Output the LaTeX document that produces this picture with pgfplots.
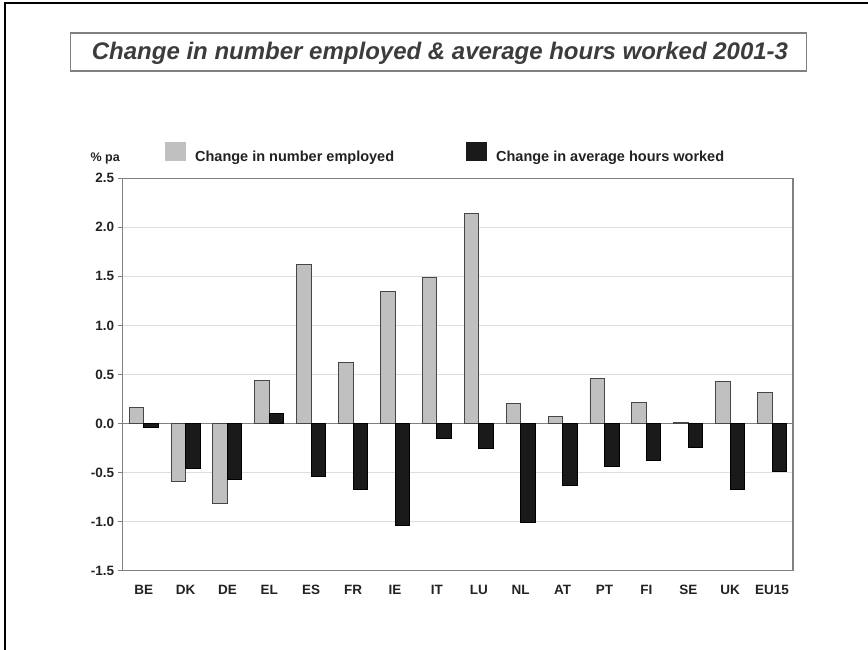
\documentclass[border=0pt]{standalone}
\usepackage{fontspec}
\setmainfont{Liberation Sans}
\usepackage{pgfplots}
\usepackage{pgfplotstable}
\pgfplotsset{compat=1.18}

\definecolor{empgrey}{RGB}{192,192,192}
\definecolor{barline}{RGB}{70,70,70}
\definecolor{hoursblack}{RGB}{26,26,26}
\definecolor{axisgrey}{RGB}{128,128,128}
\definecolor{gridgrey}{RGB}{222,222,222}
\definecolor{titlegrey}{RGB}{60,60,60}
\definecolor{labelgrey}{RGB}{34,34,34}

% Annual % change, 2001-3: number employed and average hours worked
\pgfplotstableread{
idx emp   hours
0   0.16  -0.04
1  -0.59  -0.46
2  -0.82  -0.57
3   0.44   0.10
4   1.62  -0.54
5   0.62  -0.67
6   1.35  -1.04
7   1.49  -0.15
8   2.14  -0.26
9   0.20  -1.01
10  0.07  -0.63
11  0.46  -0.44
12  0.21  -0.38
13  0.01  -0.24
14  0.43  -0.67
15  0.32  -0.49
}\changedata

\begin{document}
\begin{tikzpicture}[x=1pt,y=1pt]
\useasboundingbox (0,0) rectangle (868,649);
% frame and title box
\draw[line width=2.7pt] (5,-5) -- (5,646) -- (875,646);
\draw[axisgrey, line width=1.5pt] (70.7,578) rectangle (806.7,616);
\node[font=\fontsize{24}{28}\selectfont\bfseries\itshape, text=titlegrey, anchor=base]
  at (440,589) {Change in number employed \& average hours worked 2001-3};
\node[font=\fontsize{12.5}{15}\selectfont\bfseries, text=labelgrey, anchor=base east, inner sep=0pt]
  at (120,487) {\% pa};

\begin{axis}[
  at={(122.7pt,78.5pt)}, anchor=south west,
  scale only axis, width=670.3pt, height=392.2pt,
  ymin=-1.5, ymax=2.5, xmin=-0.5, xmax=15.5,
  ybar=0pt, bar width=14.5pt,
  xtick={0,...,15},
  xticklabels={BE,DK,DE,EL,ES,FR,IE,IT,LU,NL,AT,PT,FI,SE,UK,EU15},
  ytick={-1.5,-1.0,-0.5,0,0.5,1.0,1.5,2.0,2.5},
  ytick pos=left,
  tick align=outside,
  major tick length=5pt,
  ytick style={axisgrey, line width=1.2pt},
  xtick style={draw=none},
  axis line style={axisgrey, line width=1.3pt},
  ymajorgrids,
  grid style={gridgrey, line width=1.2pt},
  /pgf/number format/assume math mode=true,
  yticklabel style={/pgf/number format/.cd, fixed, fixed zerofill, precision=1},
  ticklabel style={font=\fontsize{13.5}{16}\selectfont\bfseries, text=labelgrey},
  xticklabel style={yshift=-6pt},
  legend style={at={(axis description cs:0.063,1.0637)}, anchor=west,
    draw=none, fill=none, inner sep=0pt,
    font=\fontsize{14.5}{17}\selectfont\bfseries, text=labelgrey,
    /tikz/every odd column/.append style={column sep=7pt},
    /tikz/every even column/.append style={column sep=70pt}},
  legend columns=2,
  legend cell align=left,
  legend image code/.code={\path[#1, draw=none] (0pt,-4pt) rectangle (21pt,15pt);},
]
\draw[axisgrey, line width=1.3pt] (axis cs:-0.5,0) -- (axis cs:15.5,0);
\addplot[fill=empgrey, draw=barline, line width=0.9pt] table[x=idx, y=emp] {\changedata};
\addplot[fill=hoursblack, draw=black, line width=0.9pt] table[x=idx, y=hours] {\changedata};
\legend{Change in number employed, Change in average hours worked}
\end{axis}
\end{tikzpicture}
\end{document}
